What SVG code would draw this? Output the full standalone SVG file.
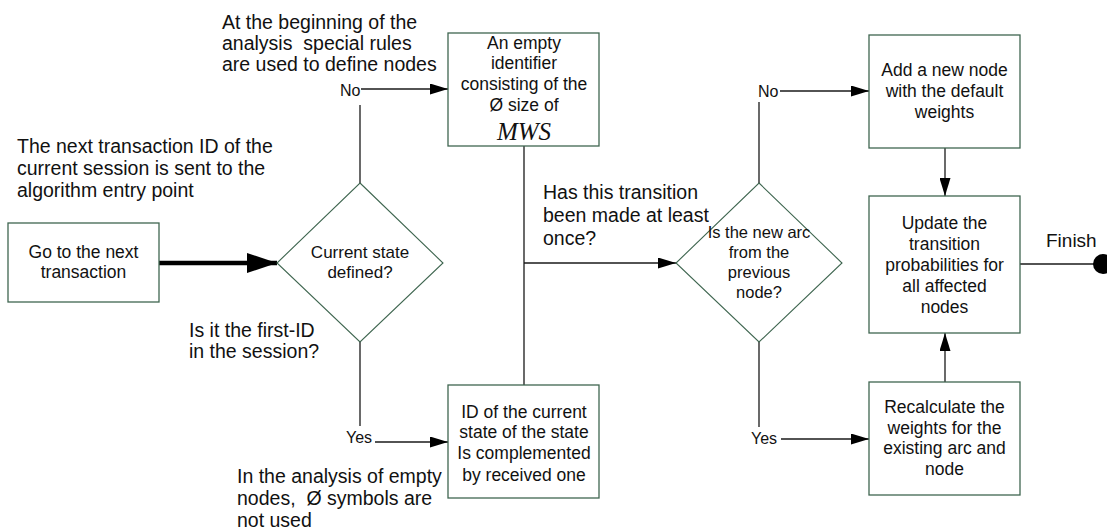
<svg xmlns="http://www.w3.org/2000/svg" width="1107" height="531" viewBox="0 0 1107 531">
  <style>
    .box { fill: #ffffff; stroke: #3f6650; stroke-width: 1.3; }
    .dia { fill: #ffffff; stroke: #3f6650; stroke-width: 1.1; }
    .t { font-family: "Liberation Sans", Arial, sans-serif; fill: #111111; }
    .node { font-size: 17.5px; text-anchor: middle; }
    .q { font-size: 16.5px; text-anchor: middle; }
    .note { font-size: 19.5px; }
    .lbl { font-size: 16px; }
    .mws { font-family: "Liberation Serif", "Times New Roman", serif; font-style: italic; font-size: 25px; text-anchor: middle; fill: #111111; }
    .wire { fill: none; stroke: #1a1a1a; stroke-width: 1.3; }
  </style>
  <defs>
    <marker id="arrow" viewBox="0 0 18 11" refX="18" refY="5.5" markerWidth="18" markerHeight="11" markerUnits="userSpaceOnUse" orient="auto">
      <path d="M0,0 L18,5.5 L0,11 Z" fill="#000000"/>
    </marker>
    <marker id="arrowBig" viewBox="0 0 30 20" refX="30" refY="10" markerWidth="30" markerHeight="20" markerUnits="userSpaceOnUse" orient="auto">
      <path d="M0,0 L30,10 L0,20 Z" fill="#000000"/>
    </marker>
  </defs>

  <!-- connectors -->
  <g id="connectors">
    <line x1="159" y1="263" x2="277" y2="263" stroke="#000000" stroke-width="4.5" marker-end="url(#arrowBig)"/>
    <!-- "No" branch of the first decision -->
    <polyline class="wire" points="360,183 360,105"/>
    <line class="wire" x1="361" y1="89" x2="448" y2="89" marker-end="url(#arrow)"/>
    <!-- "Yes" branch of the first decision -->
    <polyline class="wire" points="360,342 360,426"/>
    <line class="wire" x1="375" y1="442" x2="448" y2="442" marker-end="url(#arrow)"/>
    <!-- merge line between the two state boxes -->
    <line class="wire" x1="524" y1="146" x2="524" y2="385"/>
    <line class="wire" x1="524" y1="263" x2="676" y2="263" marker-end="url(#arrow)"/>
    <!-- "No" branch of the second decision -->
    <polyline class="wire" points="759,183 759,102"/>
    <line class="wire" x1="780" y1="91" x2="869" y2="91" marker-end="url(#arrow)"/>
    <!-- "Yes" branch of the second decision -->
    <polyline class="wire" points="759,342 759,427"/>
    <line class="wire" x1="781" y1="439" x2="869" y2="439" marker-end="url(#arrow)"/>
    <!-- into the update box -->
    <line class="wire" x1="945" y1="148" x2="945" y2="196" marker-end="url(#arrow)"/>
    <line class="wire" x1="945" y1="382" x2="945" y2="333" marker-end="url(#arrow)"/>
    <!-- finish -->
    <line class="wire" x1="1020" y1="264" x2="1095" y2="264"/>
    <circle cx="1103" cy="264" r="10" fill="#000000"/>
  </g>

  <!-- connector labels -->
  <g id="labels">
    <text class="t lbl" x="340" y="96">No</text>
    <text class="t lbl" x="346" y="443">Yes</text>
    <text class="t lbl" x="758" y="97">No</text>
    <text class="t lbl" x="751" y="444">Yes</text>
    <text class="t note" x="1046" y="247" style="font-size:19px">Finish</text>
  </g>

  <!-- free annotations -->
  <g id="notes" class="t note">
    <text x="222" y="29">At the beginning of the</text>
    <text x="222" y="50" xml:space="preserve">analysis  special rules</text>
    <text x="222" y="71">are used to define nodes</text>

    <text x="17" y="153">The next transaction ID of the</text>
    <text x="17" y="175">current session is sent to the</text>
    <text x="17" y="197">algorithm entry point</text>

    <text x="189" y="337">Is it the first-ID</text>
    <text x="189" y="358">in the session?</text>

    <text x="237" y="483">In the analysis of empty</text>
    <text x="237" y="505" xml:space="preserve">nodes,  Ø symbols are</text>
    <text x="237" y="527">not used</text>

    <text x="543" y="199">Has this transition</text>
    <text x="543" y="222">been made at least</text>
    <text x="543" y="245">once?</text>
  </g>

  <g id="node-next">
    <rect class="box" x="8" y="223" width="151" height="79"/>
    <text class="t node" x="83.5" y="258">Go to the next</text>
    <text class="t node" x="83.5" y="278">transaction</text>
  </g>

  <g id="node-state-defined">
    <polygon class="dia" points="360,183 443,263 360,342 277,263"/>
    <text class="t q" x="360" y="258" style="font-size:17px">Current state</text>
    <text class="t q" x="360" y="278" style="font-size:17px">defined?</text>
  </g>

  <g id="node-empty-id">
    <rect class="box" x="448" y="33" width="151" height="113"/>
    <text class="t node" x="524" y="49">An empty</text>
    <text class="t node" x="524" y="69">identifier</text>
    <text class="t node" x="524" y="90">consisting of the</text>
    <text class="t node" x="524" y="111">Ø size of</text>
    <text class="mws" x="524" y="140">MWS</text>
  </g>

  <g id="node-complement">
    <rect class="box" x="448" y="385" width="151" height="113"/>
    <text class="t node" x="524" y="418">ID of the current</text>
    <text class="t node" x="524" y="438">state of the state</text>
    <text class="t node" x="524" y="459">Is complemented</text>
    <text class="t node" x="524" y="481">by received one</text>
  </g>

  <g id="node-new-arc">
    <polygon class="dia" points="759,183 842,263 759,342 676,263"/>
    <text class="t q" x="759" y="238">Is the new arc</text>
    <text class="t q" x="759" y="258">from the</text>
    <text class="t q" x="759" y="278">previous</text>
    <text class="t q" x="759" y="298">node?</text>
  </g>

  <g id="node-add">
    <rect class="box" x="869" y="35" width="151" height="113"/>
    <text class="t node" x="944.5" y="76">Add a new node</text>
    <text class="t node" x="944.5" y="97">with the default</text>
    <text class="t node" x="944.5" y="118">weights</text>
  </g>

  <g id="node-update">
    <rect class="box" x="869" y="196" width="151" height="137"/>
    <text class="t node" x="944.5" y="229">Update the</text>
    <text class="t node" x="944.5" y="250">transition</text>
    <text class="t node" x="944.5" y="271">probabilities for</text>
    <text class="t node" x="944.5" y="292">all affected</text>
    <text class="t node" x="944.5" y="313">nodes</text>
  </g>

  <g id="node-recalc">
    <rect class="box" x="869" y="382" width="151" height="113"/>
    <text class="t node" x="944.5" y="413">Recalculate the</text>
    <text class="t node" x="944.5" y="434">weights for the</text>
    <text class="t node" x="944.5" y="454">existing arc and</text>
    <text class="t node" x="944.5" y="475">node</text>
  </g>
</svg>
